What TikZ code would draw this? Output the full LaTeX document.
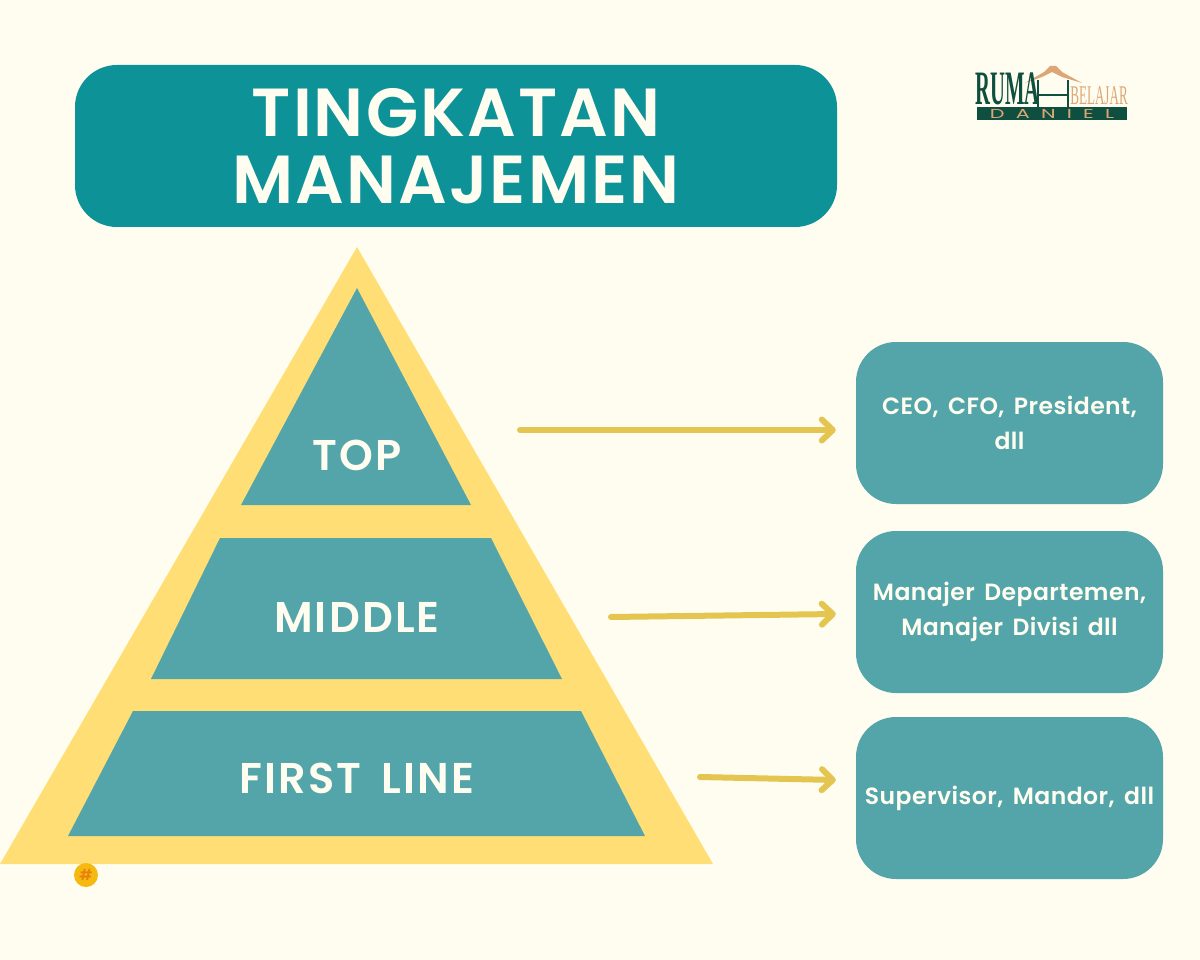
\documentclass[tikz,border=0pt]{standalone}
\usepackage{fontspec}
\setmainfont{Poppins}[BoldFont={Poppins SemiBold}]
\newfontfamily\logofont{Liberation Serif}
\usetikzlibrary{arrows.meta}

\definecolor{paper}{HTML}{FFFDF0}
\definecolor{headteal}{HTML}{0C9297}
\definecolor{softteal}{HTML}{54A5AA}
\definecolor{sandyellow}{HTML}{FFDF75}
\definecolor{arrowgold}{HTML}{E3C550}
\definecolor{logogreen}{HTML}{0F4F3F}
\definecolor{logotan}{HTML}{DDA676}
\definecolor{hashdisc}{HTML}{F5B90F}
\definecolor{hashmark}{HTML}{E8800E}

\tikzset{
  tierlabel/.style={text=paper, font={\fontsize{43}{43}\selectfont\bfseries\addfontfeatures{LetterSpace=5}\spaceskip=20pt\relax}},
  rolebox/.style={fill=softteal, rounded corners=40pt, minimum width=307pt, minimum height=162pt,
    inner sep=0pt, align=center, text=paper,
    font={\fontsize{23.5}{35}\selectfont\bfseries\addfontfeatures{LetterSpace=2}\spaceskip=9.5pt\relax}},
  tierarrow/.style={draw=arrowgold, line width=6pt, line cap=round,
    -{Straight Barb[length=11pt, width=21pt, line width=6pt, round]}},
}

\begin{document}
\begin{tikzpicture}[x=1pt, y=-1pt]
  \useasboundingbox [fill=paper] (0, 0) rectangle (1200, 960);

  % heading
  \node (heading) [fill=headteal, rounded corners=42pt, minimum width=762pt, minimum height=162pt,
    inner sep=0pt, align=center, text=paper,
    font=\fontsize{68}{68}\selectfont\bfseries\addfontfeatures{LetterSpace=3}]
    at (456, 146) {TINGKATAN\\[-1pt]MANAJEMEN};

  % pyramid
  \fill [sandyellow] (357, 247) -- (713, 864) -- (0, 864) -- cycle;
  \fill [softteal] (357, 288) -- (471, 505) -- (241, 505) -- cycle;
  \fill [softteal] (220, 538) -- (491, 538) -- (562, 679) -- (151, 679) -- cycle;
  \fill [softteal] (133, 711) -- (581, 711) -- (645, 836) -- (68, 836) -- cycle;
  \node (toplabel) [tierlabel] at (357, 455) {TOP};
  \node (middlelabel) [tierlabel] at (357, 617) {MIDDLE};
  \node (firstlabel) [tierlabel] at (357, 778) {FIRST LINE};

  % boxes on the right
  \node (topbox) [rolebox] at (1009.5, 423) {CEO, CFO, President,\\dll};
  \node (middlebox) [rolebox] at (1009.5, 612) {Manajer Departemen,\\Manajer Divisi dll};
  \node (firstbox) [rolebox] at (1009.5, 798) {Supervisor, Mandor, dll};

  % arrows
  \coordinate (topstart) at (520, 430);
  \coordinate (middlestart) at (611, 617);
  \coordinate (firststart) at (700, 777);
  \coordinate (topend) at ([shift={(-20, 7)}]topbox.west);
  \coordinate (middleend) at ([shift={(-20, 2)}]middlebox.west);
  \coordinate (firstend) at ([shift={(-20, -18)}]firstbox.west);
  \draw [tierarrow] (topstart) -- (topend);
  \draw [tierarrow] (middlestart) -- (middleend);
  \draw [tierarrow] (firststart) -- (firstend);

  % hash badge
  \node (hashbadge) [circle, fill=hashdisc, minimum size=24pt, inner sep=0pt, text=hashmark,
    font=\fontsize{15}{15}\selectfont\bfseries] at (86, 875) {\#};

  % logo
  \fill [logogreen] (977, 107) rectangle (1127, 120);
  \fill [logotan] (1025, 83) -- (1044, 72) -- (1050, 66) -- (1056, 66) -- (1062, 72) -- (1082, 83)
    -- (1062, 77) -- (1052, 72) -- (1042, 77) -- cycle;
  \draw [logogreen, line width=1.5pt] (1038, 80) -- (1038, 107);
  \draw [logogreen, line width=1.5pt] (1068, 80) -- (1068, 107);
  \draw [logogreen, line width=1.5pt] (1038, 95) -- (1068, 95);
  \node (logoname) [inner sep=0pt, xscale=0.43, text=logogreen,
    font=\logofont\fontsize{48}{48}\selectfont\bfseries] at (1007.5, 89) {RUMA};
  \node (logotag) [inner sep=0pt, xscale=0.485, text=logotan,
    font=\logofont\fontsize{27}{27}\selectfont] at (1099, 96) {BELAJAR};
  \node (logoband) [inner sep=0pt, xscale=1.6, text=logotan,
    font=\fontsize{13}{13}\selectfont] at (1052, 113.5) {D\hspace{7pt}A\hspace{7pt}N\hspace{7pt}I\hspace{7pt}E\hspace{7pt}L};
\end{tikzpicture}
\end{document}
